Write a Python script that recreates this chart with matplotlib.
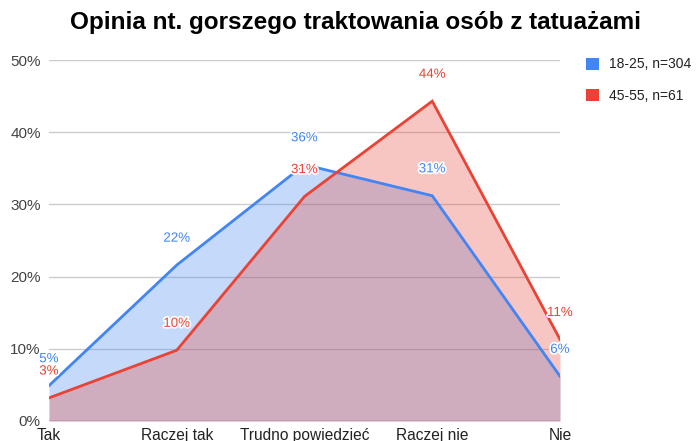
import matplotlib
matplotlib.use("Agg")
import matplotlib.pyplot as plt
import matplotlib.patheffects as pe
from matplotlib.patches import Patch

categories = ["Tak", "Raczej tak", "Trudno powiedzieć", "Raczej nie", "Nie"]
series_names = ["18-25, n=304", "45-55, n=61"]
young = [4.9, 21.6, 35.5, 31.2, 6.2]
old = [3.2, 9.8, 31.1, 44.3, 11.3]
yticks = [0, 10, 20, 30, 40, 50]

blue = "#4285f4"
red = "#ea4335"

plt.rcParams['font.family'] = ['Liberation Sans', 'DejaVu Sans']

fig = plt.figure(figsize=(6.99, 4.41), dpi=100)
ax = fig.add_axes([49/699, 20/441, (560-49)/699, (421-60)/441])

x = list(range(len(categories)))
for vals, c, z in [(young, blue, 2), (old, red, 3)]:
    ax.fill_between(x, vals, 0, color=c, alpha=0.3, linewidth=0, zorder=z)
for vals, c in [(young, blue), (old, red)]:
    ax.plot(x, vals, color=c, linewidth=2, zorder=5, solid_joinstyle='miter')
    for xi, v in zip(x, vals):
        ax.annotate(f"{round(v)}%", (xi, v), xytext=(0, 19), textcoords="offset points",
                    ha="center", va="center", fontsize=9.6, color=c, zorder=6,
                    path_effects=[pe.withStroke(linewidth=2.5, foreground="white")])

ax.set_xlim(0, len(categories) - 1)
ax.set_ylim(0, 50)
ax.set_yticks(yticks)
ax.set_yticklabels([f"{t}%" for t in yticks])
ax.set_xticks(x)
ax.set_xticklabels(categories)
ax.tick_params(axis='both', length=0, labelcolor="#444444")
ax.tick_params(axis='y', pad=6, labelsize=11)
ax.tick_params(axis='x', pad=5, labelsize=11.2, labelcolor="#222222")
for s in ax.spines.values():
    s.set_visible(False)
ax.grid(axis='y', color="#cccccc", linewidth=1, zorder=0)
ax.set_axisbelow(True)
ax.axhline(0, color="#888888", linewidth=1, zorder=1)

fig.text(355/699, 1 - 23/441, "Opinia nt. gorszego traktowania osób z tatuażami",
         ha="center", va="center", fontsize=17.5, fontweight="bold", color="#000000")

handles = [Patch(facecolor=blue, edgecolor="none"), Patch(facecolor=red, edgecolor="none")]
fig.legend(handles, series_names, loc="upper left", bbox_to_anchor=(573/699, 1 - 45/441),
           frameon=False, fontsize=10, handlelength=1.0, handleheight=1.0,
           handletextpad=0.7, labelspacing=1.25, labelcolor="#222222")

fig.savefig("out.png", dpi=100)
